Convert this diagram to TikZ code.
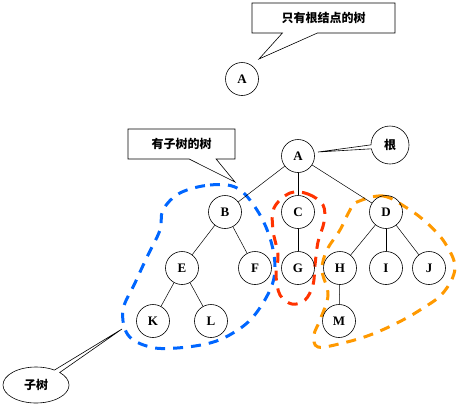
\documentclass[tikz,border=0pt]{standalone}
\usepackage{fontspec}
\setmainfont{Liberation Serif}
\newfontfamily\cjk{Noto Sans CJK SC}
\usetikzlibrary{shapes.callouts}
\definecolor{cblue}{RGB}{0,102,255}
\definecolor{cred}{RGB}{255,51,0}
\definecolor{corange}{RGB}{255,153,0}
\begin{document}
\begin{tikzpicture}[x=1pt,y=-1pt,
  tn/.style={circle,draw,line width=0.6pt,minimum size=33pt,inner sep=0pt,font=\fontsize{13}{13}\selectfont\bfseries},
  edge/.style={line width=0.5pt},
  rbox/.style={rectangle callout,draw,fill=white,line width=0.6pt,font=\cjk\bfseries\fontsize{12}{12}\selectfont,inner sep=0pt},
  ebox/.style={ellipse callout,draw,fill=white,line width=0.6pt,font=\cjk\bfseries\fontsize{12}{12}\selectfont,inner sep=0pt,callout pointer arc=12},
  loop/.style={line width=3pt,dash pattern=on 10pt off 8pt}]
\useasboundingbox (0,0) rectangle (461,408);
% dashed subtree loops
\draw[loop,cblue] plot[smooth cycle,tension=0.6] coordinates {(180,193) (210,185) (237,188) (257,210) (270,238) (275,267) (270,290) (253,317) (233,333) (210,343) (177,348) (150,347) (128,335) (123,310) (135,283) (147,257) (160,230) (163,210)};
\draw[loop,cred] plot[smooth cycle,tension=0.6] coordinates {(290,193) (308,194) (323,205) (324,222) (318,242) (315,265) (313,285) (305,300) (292,304) (280,295) (276,275) (278,255) (273,230) (274,208)};
\draw[loop,corange] plot[smooth cycle,tension=0.6] coordinates {(357,202) (383,196) (407,208) (427,223) (445,243) (455,268) (443,293) (420,310) (397,323) (370,335) (343,343) (318,347) (314,335) (320,320) (328,295) (322,270) (327,250) (340,230) (350,210)};
% nodes
\node[tn] (A0) at (242,79) {A};
\node[tn] (A) at (298,156) {A};
\node[tn] (B) at (225,212) {B};
\node[tn] (C) at (298,212) {C};
\node[tn] (D) at (386,212) {D};
\node[tn] (E) at (182,268) {E};
\node[tn] (F) at (255,268) {F};
\node[tn] (G) at (298,268) {G};
\node[tn] (H) at (340,268) {H};
\node[tn] (I) at (386,268) {I};
\node[tn] (J) at (429,268) {J};
\node[tn] (K) at (153,321) {K};
\node[tn] (L) at (211,321) {L};
\node[tn] (M) at (339,321) {M};
\foreach \a/\b in {A/B,A/C,A/D,B/E,B/F,C/G,D/H,D/I,D/J,E/K,E/L,H/M}
  \draw[edge] (\a) -- (\b);
% callouts
\coordinate (p1) at (259,59);
\coordinate (p2) at (235,182);
\coordinate (p3) at (318,152);
\coordinate (p4) at (122,329);
\node[rbox,minimum width=143pt,minimum height=30pt,callout absolute pointer={(p1)},callout pointer width=35pt] (t1) at (323.5,18) {只有根结点的树};
\node[rbox,minimum width=107pt,minimum height=30pt,callout absolute pointer={(p2)},callout pointer width=27pt] (t2) at (181.5,144) {有子树的树};
\node[ebox,minimum width=38pt,minimum height=38pt,callout absolute pointer={(p3)}] (t3) at (390,145) {根};
\node[ebox,minimum width=66pt,minimum height=36pt,callout absolute pointer={(p4)}] (t4) at (36,385) {子树};
\end{tikzpicture}
\end{document}
